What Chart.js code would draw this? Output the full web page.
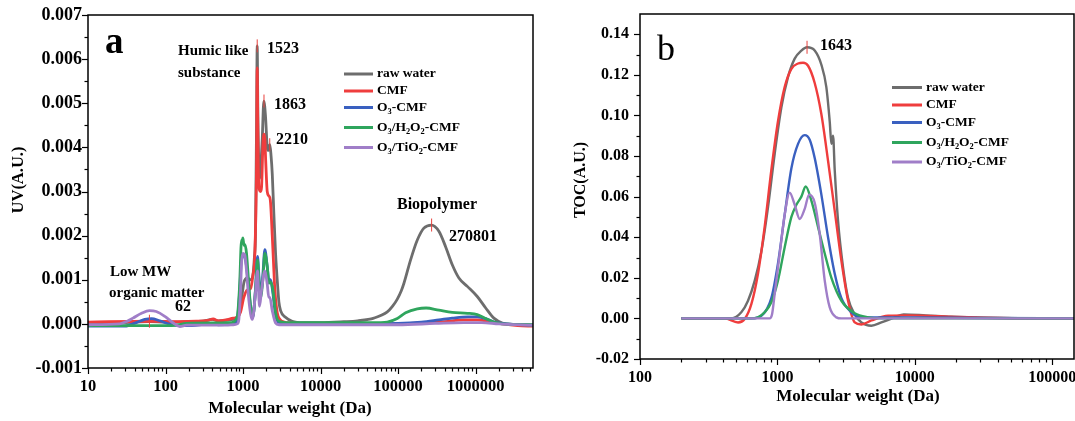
<!DOCTYPE html>
<html>
<head>
<meta charset="utf-8">
<script src="https://cdn.jsdelivr.net/npm/chart.js@4.4.0/dist/chart.umd.min.js"></script>
<style>
  html, body { margin: 0; padding: 0; background: #fff; }
  #wrap { position: relative; width: 1075px; height: 421px; }
  .panel { position: absolute; top: 0; height: 421px; }
  #panelA { left: 0; width: 540px; }
  #panelB { left: 540px; width: 535px; }
</style>
</head>
<body>
<div id="wrap">
  <div class="panel" id="panelA"><canvas id="chartA"></canvas></div>
  <div class="panel" id="panelB"><canvas id="chartB"></canvas></div>
</div>
<script>
// ---- panel a : UV ----
const seriesNames = ["raw water", "CMF", "O_3-CMF", "O_3/H_2O_2-CMF", "O_3/TiO_2-CMF"];
const seriesColors = ["#6d6d6d", "#ef3d3d", "#3a60c0", "#2fa55d", "#a07ec8"];

const uvXTicks = [10, 100, 1000, 10000, 100000, 1000000];
const uvYTicks = [-0.001, 0, 0.001, 0.002, 0.003, 0.004, 0.005, 0.006, 0.007];

const uvRawMW = [10, 20, 40, 62, 100, 200, 300, 400, 480, 600, 750, 840, 900, 930, 980, 1024, 1080, 1133, 1250, 1340, 1400, 1449, 1493, 1523, 1555, 1600, 1650, 1700, 1770, 1855, 1950, 2050, 2100, 2218, 2300, 2382, 2497, 2627, 2811, 2900, 3050, 3530, 4300, 6000, 10000, 20000, 30000, 48700, 72600, 85000, 97700, 110000, 119000, 145000, 177000, 215000, 270000, 336000, 410000, 500000, 609000, 782000, 1050000, 1350000, 1720000, 2210000, 3000000, 5500000];
const uvRaw = [0.00003, 0.00003, 0.00004, 0.00005, 0.00004, 0.00005, 0.00006, 0.0001, 0.00007, 0.00008, 0.0001, 0.00012, 0.00025, 0.0004, 0.0007, 0.00093, 0.00102, 0.00104, 0.001, 0.0011, 0.0015, 0.0021, 0.0045, 0.0063, 0.0047, 0.0036, 0.0033, 0.0036, 0.0042, 0.00505, 0.0047, 0.004, 0.00393, 0.00406, 0.0038, 0.0034, 0.0025, 0.0016, 0.0008, 0.0005, 0.0003, 0.00015, 0.00006, 0.00003, 0.00003, 0.00005, 0.00007, 0.00013, 0.00027, 0.0004, 0.00056, 0.00075, 0.00092, 0.00145, 0.0019, 0.00217, 0.00224, 0.0021, 0.00175, 0.00134, 0.00104, 0.00085, 0.00062, 0.00036, 0.00013, 0.00002, -0.00001, -0.00003];

const uvCmfMW = [10, 62, 150, 250, 350, 412, 480, 600, 748, 842, 929, 1024, 1133, 1250, 1340, 1420, 1493, 1523, 1555, 1600, 1682, 1733, 1800, 1855, 1911, 1960, 2051, 2152, 2250, 2382, 2500, 2573, 2762, 3000, 3400, 5000, 20000, 100000, 200000, 400000, 700000, 1050000, 1500000, 2200000, 3500000, 5500000];
const uvCmf = [0.00004, 0.00006, 0.00005, 0.00006, 0.00008, 0.00011, 0.00007, 0.00009, 0.00013, 0.00015, 0.00027, 0.0006, 0.00077, 0.0008, 0.0011, 0.0016, 0.0036, 0.0058, 0.0042, 0.0031, 0.003, 0.0031, 0.004, 0.0043, 0.0042, 0.0037, 0.003, 0.0029, 0.0028, 0.002, 0.0012, 0.00077, 0.00025, 0.0001, 0.00004, 0.00001, 0, 0, 0.00002, 0.00005, 0.00009, 0.00009, 0.00005, 0, -0.00004, -0.00005];

const uvO3MW = [10, 30, 42, 54, 66, 84, 114, 187, 400, 480, 748, 842, 902, 957, 994, 1055, 1109, 1167, 1250, 1337, 1449, 1538, 1600, 1682, 1800, 1911, 2051, 2152, 2265, 2425, 2627, 2897, 4000, 20000, 100000, 200000, 336000, 500000, 800000, 1050000, 1350000, 1720000, 2500000, 5500000];
const uvO3 = [-0.00005, -0.00005, 0.00003, 0.0001, 0.00012, 0.00007, -0.00001, -0.00004, 0, -0.00002, 0, 0.0001, 0.0007, 0.0015, 0.00155, 0.0015, 0.0013, 0.0009, 0.0004, 0.00015, 0.0008, 0.00153, 0.0011, 0.00065, 0.0011, 0.00168, 0.0013, 0.001, 0.001, 0.0007, 0.0002, 0.00003, 0, 0, 0.00001, 0.00004, 0.00009, 0.00013, 0.00016, 0.00016, 0.00012, 0.00004, 0, -0.00003];

const uvH2o2MW = [10, 120, 187, 400, 700, 842, 902, 957, 975, 994, 1030, 1055, 1109, 1167, 1250, 1337, 1449, 1538, 1600, 1682, 1800, 1911, 2051, 2152, 2265, 2425, 2627, 2897, 4000, 30000, 60000, 72600, 97700, 125000, 177000, 230000, 336000, 500000, 782000, 1050000, 1350000, 1720000, 2200000, 5500000];
const uvH2o2 = [-0.00004, -0.00004, 0.00001, 0.00002, 0.00003, 0.00017, 0.00085, 0.0019, 0.00188, 0.00195, 0.00178, 0.0018, 0.0016, 0.00107, 0.0004, 0.00017, 0.00077, 0.00145, 0.001, 0.0006, 0.001, 0.0016, 0.0013, 0.00092, 0.00095, 0.00077, 0.00025, 0.00006, 0.00003, 0.00003, 0.00003, 0.00004, 0.00012, 0.00025, 0.00034, 0.00036, 0.00031, 0.00026, 0.00024, 0.00021, 0.00012, 0.00004, 0, -0.00002];

const uvTio2MW = [10, 25.7, 32, 38, 49, 62, 76, 98, 126, 153, 187, 400, 600, 748, 842, 883, 930, 957, 994, 1055, 1109, 1188, 1315, 1449, 1538, 1580, 1633, 1733, 1911, 2051, 2150, 2218, 2382, 2627, 2900, 10000, 100000, 300000, 700000, 1200000, 2000000, 5500000];
const uvTio2 = [-0.00002, 0, 0.00006, 0.00013, 0.00024, 0.0003, 0.00028, 0.00017, 0.00002, -0.00006, -0.00003, -0.00003, -0.00003, -0.00002, 0, 0.0001, 0.0008, 0.00138, 0.0016, 0.00155, 0.0012, 0.00054, 0.0001, 0.0007, 0.0012, 0.0008, 0.0004, 0.00077, 0.0012, 0.0009, 0.0006, 0.0006, 0.0003, 0.00002, -0.00002, -0.00002, -0.00002, 0.00001, 0.00003, 0.00003, 0, -0.00003];

const uvMarkMW = [62, 1523, 1863, 2210, 270801];
const uvMarkVal = [0.00006, 0.0063, 0.00505, 0.00406, 0.00224];

// ---- panel b : TOC ----
const tocXTicks = [100, 1000, 10000, 100000];
const tocYTicks = [-0.02, 0, 0.02, 0.04, 0.06, 0.08, 0.10, 0.12, 0.14];

const tocRawMW = [200, 462, 546, 611, 684, 764, 855, 955, 1069, 1195, 1336, 1494, 1643, 1868, 2089, 2270, 2403, 2471, 2541, 2613, 2763, 3006, 3267, 3655, 4087, 4830, 5710, 7140, 8300, 12000, 18500, 33000, 60000, 144000];
const tocRaw = [0, 0, 0.003, 0.0087, 0.0186, 0.033, 0.055, 0.081, 0.104, 0.119, 0.128, 0.132, 0.1336, 0.132, 0.125, 0.114, 0.097, 0.086, 0.09, 0.073, 0.048, 0.025, 0.01, 0.002, -0.002, -0.0036, -0.002, 0.0005, 0.002, 0.0015, 0.0008, 0.0003, 0.0001, 0];

const tocCmfMW = [200, 413, 517, 578, 646, 722, 807, 903, 1009, 1129, 1264, 1413, 1537, 1671, 1868, 2089, 2336, 2613, 2922, 3267, 3655, 4087, 4830, 6390, 9000, 20000, 40000, 144000];
const tocCmf = [0, 0, -0.002, -0.0003, 0.007, 0.022, 0.045, 0.073, 0.097, 0.114, 0.123, 0.1256, 0.126, 0.1245, 0.116, 0.1006, 0.0777, 0.053, 0.0284, 0.0087, -0.002, -0.003, -0.001, 0.0013, 0.0015, 0.0007, 0.0002, 0];

const tocO3MW = [200, 646, 764, 903, 1009, 1129, 1264, 1413, 1580, 1718, 1868, 2089, 2336, 2613, 2922, 3455, 4087, 10000, 30000, 144000];
const tocO3 = [0, 0, 0.0013, 0.01, 0.027, 0.051, 0.074, 0.086, 0.0903, 0.088, 0.079, 0.061, 0.04, 0.022, 0.01, 0.003, 0.0005, 0.0005, 0.0002, 0];

const tocH2o2MW = [200, 646, 722, 807, 903, 1009, 1129, 1264, 1374, 1494, 1607, 1766, 1977, 2210, 2471, 2922, 3655, 4570, 5710, 144000];
const tocH2o2 = [0, 0, 0.0005, 0.003, 0.008, 0.0186, 0.035, 0.05, 0.056, 0.06, 0.065, 0.058, 0.045, 0.032, 0.02, 0.0087, 0.0025, 0.0005, 0, 0];

const tocTio2MW = [200, 879, 914, 955, 1040, 1129, 1228, 1336, 1453, 1580, 1700, 1868, 2032, 2210, 2403, 2688, 2922, 144000];
const tocTio2 = [0, 0, 0.002, 0.012, 0.032, 0.051, 0.062, 0.056, 0.049, 0.054, 0.061, 0.057, 0.0415, 0.0186, 0.0054, 0.0005, 0, 0];

const tocMarkMW = [1643];
const tocMarkVal = [0.1336];

const FONT = '"Liberation Serif", "Times New Roman", serif';
Chart.defaults.font.family = FONT;
Chart.defaults.color = "#000";

function logTicks(min, max, majors) {
  const out = [];
  for (let d = 1; d <= max; d *= 10) {
    for (let m = 1; m <= 9; m++) {
      const v = m * d;
      if (v >= min && v <= max) out.push({ value: v, mj: majors.includes(v) });
    }
  }
  return out;
}

function linTicks(majors) {
  const out = [];
  majors.forEach((v, i) => {
    out.push({ value: v, mj: true });
    if (i < majors.length - 1) out.push({ value: (v + majors[i + 1]) / 2, mj: false });
  });
  return out;
}

// text with _x subscripts (O_3 -> O3 with small 3)
function drawRich(ctx, str, x, y, size) {
  let cx = x;
  for (let i = 0; i < str.length; i++) {
    if (str[i] === "_") {
      const s = str[++i];
      ctx.font = `bold ${size * 0.62}px ${FONT}`;
      ctx.fillText(s, cx, y + size * 0.32);
      cx += ctx.measureText(s).width;
    } else {
      ctx.font = `bold ${size}px ${FONT}`;
      ctx.fillText(str[i], cx, y);
      cx += ctx.measureText(str[i]).width;
    }
  }
}

const decor = {
  id: "decor",
  afterDatasetsDraw(chart, args, o) {
    const ctx = chart.ctx;
    const { left, right, top, bottom } = chart.chartArea;
    const xs = chart.scales.x, ys = chart.scales.y;
    ctx.save();
    ctx.strokeStyle = "#000";
    ctx.lineWidth = 1.5;
    ctx.strokeRect(left, top, right - left, bottom - top);

    ctx.lineWidth = 1.2;
    xs.ticks.forEach((t) => {
      const px = Math.round(xs.getPixelForValue(t.value)) + 0.5;
      ctx.beginPath();
      ctx.moveTo(px, bottom);
      ctx.lineTo(px, bottom + (t.mj ? 6 : 3.5));
      ctx.stroke();
    });
    ys.ticks.forEach((t) => {
      const py = Math.round(ys.getPixelForValue(t.value)) + 0.5;
      ctx.beginPath();
      ctx.moveTo(left, py);
      ctx.lineTo(left - (t.mj ? 6 : 3.5), py);
      ctx.stroke();
    });

    // red peak markers
    ctx.strokeStyle = "#e8413c";
    ctx.lineWidth = 1;
    o.markMW.forEach((m, i) => {
      const px = xs.getPixelForValue(m);
      const py = ys.getPixelForValue(o.markVal[i]);
      ctx.beginPath();
      ctx.moveTo(px, py - 6.5);
      ctx.lineTo(px, py + 6.5);
      ctx.stroke();
    });

    // legend
    ctx.textBaseline = "middle";
    ctx.fillStyle = "#000";
    chart.data.datasets.forEach((ds, i) => {
      const y = o.legend.rows[i];
      ctx.strokeStyle = ds.borderColor;
      ctx.lineWidth = 3;
      ctx.beginPath();
      ctx.moveTo(o.legend.x0, y);
      ctx.lineTo(o.legend.x1, y);
      ctx.stroke();
      drawRich(ctx, seriesNames[i], o.legend.tx, y, 13.5);
    });

    // annotations
    o.texts.forEach((t) => {
      ctx.font = `${t.w || "bold"} ${t.size}px ${FONT}`;
      ctx.textBaseline = t.base || "middle";
      ctx.textAlign = t.align || "left";
      ctx.save();
      ctx.translate(t.x, t.y);
      if (t.rot) ctx.rotate(t.rot);
      ctx.fillText(t.text, 0, 0);
      ctx.restore();
    });
    ctx.restore();
  },
};

function datasets(pairs, width) {
  return pairs.map(([mw, val], i) => ({
    label: seriesNames[i],
    data: mw.map((m, j) => ({ x: m, y: val[j] })),
    borderColor: seriesColors[i],
    borderWidth: width,
    pointRadius: 0,
    fill: false,
    cubicInterpolationMode: "monotone",
    order: 5 - i,
  }));
}

function makeChart(id, c) {
  return new Chart(document.getElementById(id), {
    type: "line",
    data: { datasets: datasets(c.series, c.lineWidth) },
    options: {
      responsive: true,
      maintainAspectRatio: false,
      animation: false,
      devicePixelRatio: 1,
      layout: { padding: c.padding },
      plugins: {
        legend: { display: false },
        tooltip: { enabled: false },
        decor: c.decor,
      },
      scales: {
        x: {
          type: "logarithmic",
          min: c.xMin,
          max: c.xMax,
          afterBuildTicks: (s) => { s.ticks = logTicks(c.xMin, c.xMax, c.xTicks); },
          afterFit: (s) => { s.height = c.xHeight; s.paddingLeft = 0; s.paddingRight = 0; },
          grid: { display: false, drawTicks: false },
          border: { display: false },
          ticks: {
            autoSkip: false,
            maxRotation: 0,
            padding: c.xPad,
            font: { size: c.xFont, weight: "bold" },
            color: "#000",
            callback: (v) => (c.xTicks.includes(v) ? String(v) : ""),
          },
        },
        y: {
          type: "linear",
          min: c.yTicks[0],
          max: c.yMax,
          afterBuildTicks: (s) => { s.ticks = linTicks(c.yTicks); },
          afterFit: (s) => { s.width = c.yWidth; s.paddingTop = 0; s.paddingBottom = 0; },
          grid: { display: false, drawTicks: false },
          border: { display: false },
          ticks: {
            autoSkip: false,
            padding: c.yPad,
            font: { size: c.yFont, weight: "bold" },
            color: "#000",
            callback: (v) => {
              const hit = c.yTicks.find((m) => Math.abs(m - v) < 1e-9);
              return hit === undefined ? "" : hit.toFixed(c.yDec);
            },
          },
        },
      },
    },
    plugins: [decor],
  });
}

makeChart("chartA", {
  series: [[uvRawMW, uvRaw], [uvCmfMW, uvCmf], [uvO3MW, uvO3], [uvH2o2MW, uvH2o2], [uvTio2MW, uvTio2]],
  lineWidth: 2.8,
  padding: { left: 0, right: 7, top: 15, bottom: 0 },
  xMin: 10, xMax: 5500000, xTicks: uvXTicks, xHeight: 53, xPad: 9, xFont: 16.5,
  yTicks: uvYTicks, yMax: 0.007, yWidth: 88, yPad: 6, yFont: 18, yDec: 3,
  decor: {
    markMW: uvMarkMW, markVal: uvMarkVal,
    legend: { x0: 344, x1: 373, tx: 377, rows: [74, 91, 107.5, 127.5, 147.5] },
    texts: [
      { text: "UV(A.U.)", x: 19, y: 180, size: 16.5, rot: -Math.PI / 2, align: "center" },
      { text: "Molecular weight (Da)", x: 290, y: 409, size: 17, align: "center" },
      { text: "a", x: 105, y: 53, size: 37, base: "alphabetic" },
      { text: "Humic like", x: 178, y: 51, size: 15 },
      { text: "substance", x: 178, y: 73, size: 15 },
      { text: "1523", x: 267, y: 49, size: 16 },
      { text: "1863", x: 274, y: 105, size: 16 },
      { text: "2210", x: 276, y: 140, size: 16 },
      { text: "Biopolymer", x: 397, y: 205, size: 16 },
      { text: "270801", x: 449, y: 237, size: 16 },
      { text: "Low MW", x: 110, y: 272, size: 15 },
      { text: "organic matter", x: 109, y: 293, size: 15 },
      { text: "62", x: 175, y: 307, size: 16 },
    ],
  },
});

makeChart("chartB", {
  series: [[tocRawMW, tocRaw], [tocCmfMW, tocCmf], [tocO3MW, tocO3], [tocH2o2MW, tocH2o2], [tocTio2MW, tocTio2]],
  lineWidth: 2.4,
  padding: { left: 0, right: 1, top: 14, bottom: 0 },
  xMin: 100, xMax: 144000, xTicks: tocXTicks, xHeight: 62, xPad: 9, xFont: 16,
  yTicks: tocYTicks, yMax: 0.15, yWidth: 100, yPad: 11, yFont: 16, yDec: 2,
  decor: {
    markMW: tocMarkMW, markVal: tocMarkVal,
    legend: { x0: 352, x1: 382, tx: 386, rows: [87.5, 105, 122.5, 142.5, 162] },
    texts: [
      { text: "TOC(A.U.)", x: 41, y: 180, size: 16, rot: -Math.PI / 2, align: "center" },
      { text: "Molecular weight (Da)", x: 318, y: 397, size: 17, align: "center" },
      { text: "b", x: 117, y: 60, size: 36, w: "normal", base: "alphabetic" },
      { text: "1643", x: 280, y: 46, size: 16 },
    ],
  },
});
</script>
</body>
</html>
